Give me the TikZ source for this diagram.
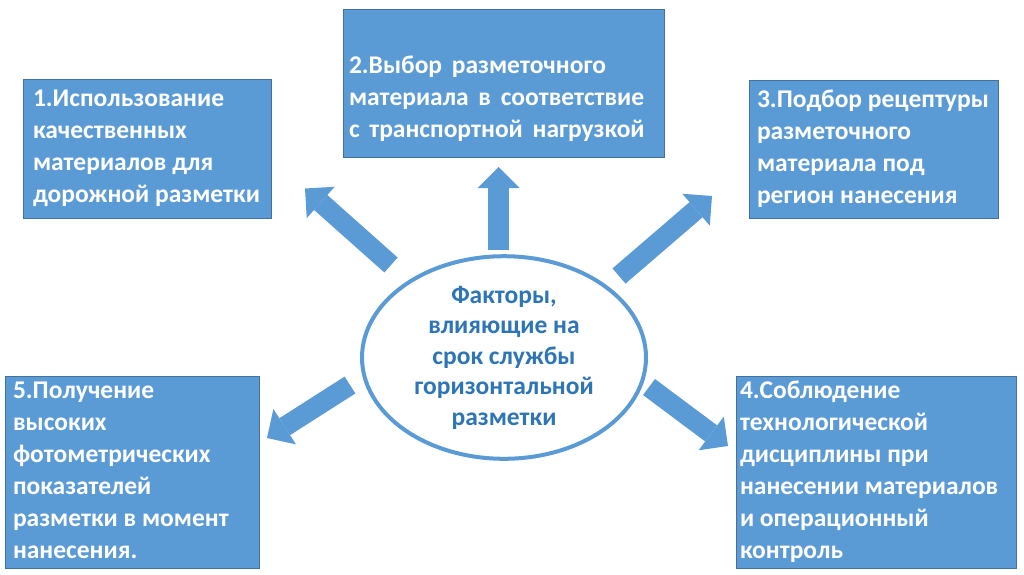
\documentclass[tikz,border=0pt]{standalone}
\usepackage{fontspec}
\setmainfont{Carlito}
\usetikzlibrary{arrows.meta,shapes.geometric}
\definecolor{boxblue}{HTML}{5B9BD5}
\definecolor{boxline}{HTML}{41719C}
\definecolor{txtblue}{HTML}{2E75B6}
\newcommand{\mylines}[1]{\spaceskip=0pt\xspaceskip=0pt\begin{tabular}{@{}l@{}}#1\end{tabular}}
\newcommand{\mywidelines}[1]{\spaceskip=.38em\xspaceskip=.38em\begin{tabular}{@{}l@{}}#1\end{tabular}}
\begin{document}
\begin{tikzpicture}[x=1pt,y=-1pt,
  factor/.style={draw=boxline, line width=0.8pt, fill=boxblue, text=white,
    font=\fontsize{25.5}{32}\selectfont\bfseries, align=left, anchor=north west,
    inner ysep=0pt, outer sep=0pt},
  hub/.style={ellipse, draw=boxblue, line width=4pt, fill=white, text=txtblue,
    font=\fontsize{25.5}{30.5}\selectfont\bfseries, align=center, inner sep=0pt},
  blockarrow/.style={draw=boxblue, line width=20pt,
    -{Triangle[width=42pt,length=21pt,line width=0pt]}}
]
\useasboundingbox (0,0) rectangle (1024,574);

% centre
\node[hub, minimum width=284pt, minimum height=197pt] (c) at (504,357.5)
  {Факторы,\\влияющие на\\срок службы\\горизонтальной\\разметки};

% factor boxes
\node[factor, minimum width=248pt, minimum height=139pt, text width=228pt, inner xsep=10pt] (f1) at (23,79)
  {\mylines{1.Использование\\качественных\\материалов для\\дорожной разметки}};
\node[factor, minimum width=321pt, minimum height=148pt, text width=309pt, inner xsep=6pt] (f2) at (343,9)
  {\mywidelines{\strut\\2.Выбор разметочного\\материала в соответствие\\с транспортной нагрузкой}};
\node[factor, minimum width=249pt, minimum height=138pt, text width=233pt, inner xsep=8pt] (f3) at (749,80)
  {\mylines{3.Подбор рецептуры\\разметочного\\материала под\\регион нанесения}};
\node[factor, minimum width=280pt, minimum height=183pt, text width=272pt, inner xsep=4pt] (f4) at (736,376)
  {\mylines{4.Соблюдение\\технологической\\дисциплины при\\нанесении материалов\\и операционный\\контроль}};
\node[factor, minimum width=254pt, minimum height=183pt, text width=238pt, inner xsep=8pt] (f5) at (5,376)
  {\mylines{5.Получение\\высоких\\фотометрических\\показателей\\разметки в момент\\нанесения.}};

% arrow ends
\coordinate (t1) at (391,265);   \coordinate (h1) at (305,188.5);
\coordinate (t2) at (498.5,250); \coordinate (h2) at (498.5,167);
\coordinate (t3) at (619,276);   \coordinate (h3) at (712,196);
\coordinate (t4) at (649,387);   \coordinate (h4) at (728,446);
\coordinate (t5) at (350,385);   \coordinate (h5) at (267,438);

\draw[blockarrow] (t1) -- (h1);
\draw[blockarrow, line width=21pt] (t2) -- (h2);
\draw[blockarrow] (t3) -- (h3);
\draw[blockarrow] (t4) -- (h4);
\draw[blockarrow] (t5) -- (h5);
\end{tikzpicture}
\end{document}
